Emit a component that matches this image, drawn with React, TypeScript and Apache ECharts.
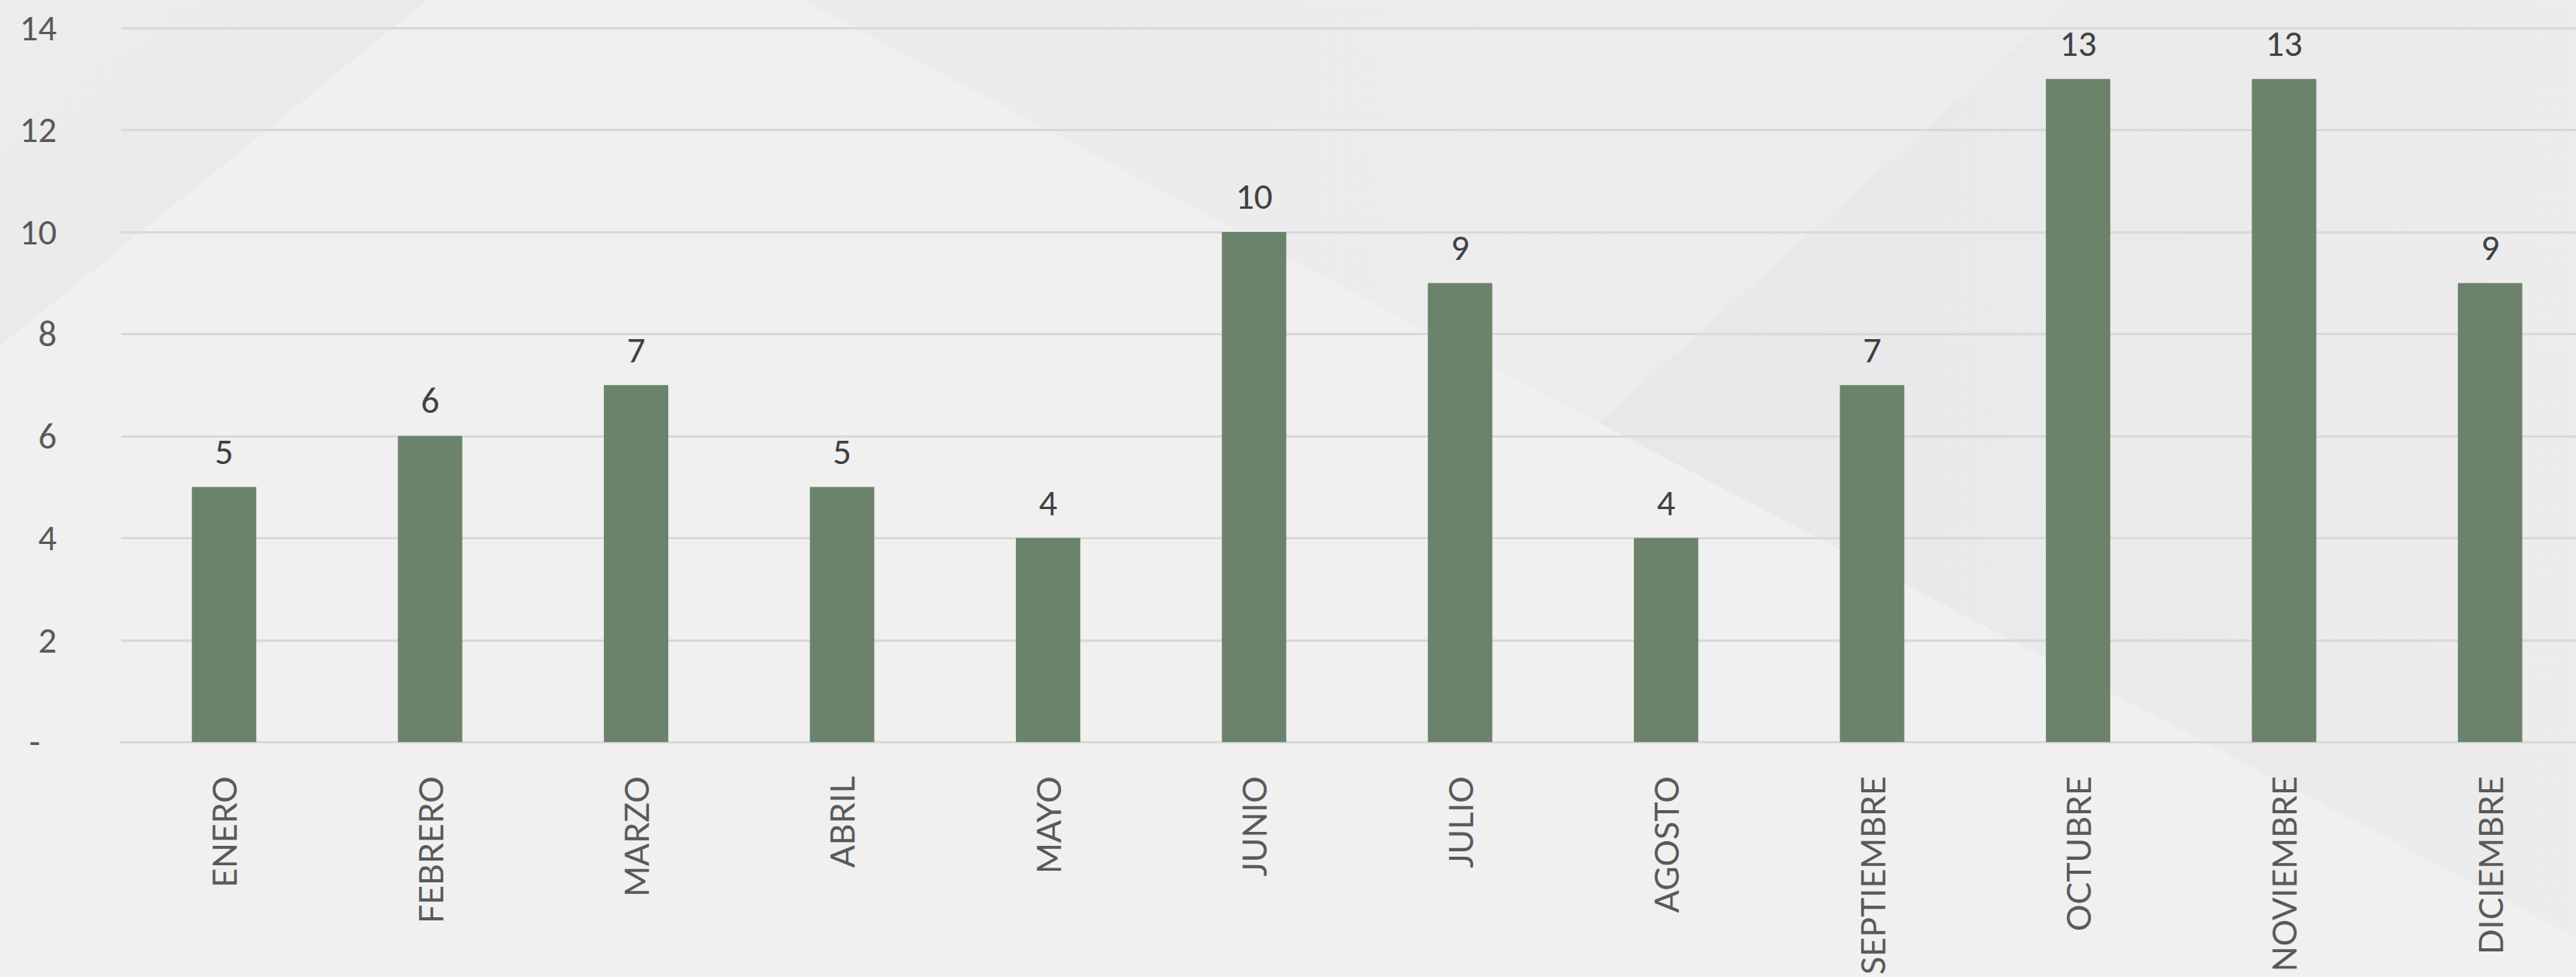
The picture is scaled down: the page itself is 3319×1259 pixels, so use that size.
import React, { useEffect, useRef } from "react";
import * as echarts from "echarts";

const categories = [
  "ENERO", "FEBRERO", "MARZO", "ABRIL", "MAYO", "JUNIO",
  "JULIO", "AGOSTO", "SEPTIEMBRE", "OCTUBRE", "NOVIEMBRE", "DICIEMBRE",
];
const values = [5, 6, 7, 5, 4, 10, 9, 4, 7, 13, 13, 9];
const yMin = 0;
const yMax = 14;
const yInterval = 2;

const W = 3319;
const H = 1259;
const CW = 3341; // chart canvas slightly wider than the view: the plot runs off the right edge

export default function App() {
  const ref = useRef<HTMLDivElement>(null);

  useEffect(() => {
    if (!ref.current) return;
    const chart = echarts.init(ref.current, null, { renderer: "svg" });

    const bg = [
      {
        type: "polygon",
        z: -10,
        silent: true,
        shape: { points: [[0, 0], [551, 0], [0, 446]] },
        style: {
          fill: new echarts.graphic.LinearGradient(0, 0, 1, 1, [
            { offset: 0, color: "#EDEDEE" },
            { offset: 1, color: "#E8E8EA" },
          ]),
        },
      },
      {
        type: "polygon",
        z: -10,
        silent: true,
        shape: { points: [[1034, 0], [2665, 0], [2060, 545]] },
        style: {
          fill: new echarts.graphic.LinearGradient(0, 0, 1, 0, [
            { offset: 0, color: "#EBEBED" },
            { offset: 1, color: "#EDEDEE" },
          ]),
        },
      },
      {
        type: "polygon",
        z: -10,
        silent: true,
        shape: { points: [[2665, 0], [CW, 0], [CW, 1220], [2060, 545]] },
        style: {
          fill: new echarts.graphic.LinearGradient(0, 0, 1, 0, [
            { offset: 0, color: "#E8E8EB" },
            { offset: 1, color: "#ECECED" },
          ]),
        },
      },
    ];

    const numFont = "Carlito, 'Liberation Sans', sans-serif";

    chart.setOption({
      animation: false,
      backgroundColor: "#F0F0F0",
      graphic: { elements: bg },
      grid: { left: 156, right: 0, top: 36, bottom: H - 957, containLabel: false },
      xAxis: {
        type: "category",
        data: categories,
        axisLine: { show: true, lineStyle: { color: "#D9D9D9", width: 3 } },
        axisTick: { show: false },
        axisLabel: {
          rotate: 90,
          margin: 44,
          color: "#595959",
          fontFamily: "Lato, 'Liberation Sans', sans-serif",
          fontSize: 43,
          interval: 0,
        },
      },
      yAxis: {
        type: "value",
        min: yMin,
        max: yMax,
        interval: yInterval,
        axisLine: { show: false },
        axisTick: { show: false },
        splitLine: { lineStyle: { color: "#D9D9D9", width: 3 } },
        axisLabel: {
          margin: 83,
          color: "#595959",
          fontFamily: numFont,
          fontSize: 47,
          formatter: (v: number) => (v === 0 ? "{d|-}" : String(v)),
          rich: {
            d: {
              padding: [0, 21, 0, 0],
              color: "#595959",
              fontFamily: numFont,
              fontSize: 47,
            },
          },
        },
      },
      series: [
        {
          type: "bar",
          data: values,
          barWidth: 83,
          itemStyle: { color: "#6C836B" },
          label: {
            show: true,
            position: "top",
            distance: 22,
            color: "#404040",
            fontFamily: numFont,
            fontSize: 47,
          },
        },
      ],
    });

    return () => chart.dispose();
  }, []);

  return (
    <div
      style={{
        position: "absolute",
        left: 0,
        top: 0,
        width: W,
        height: H,
        overflow: "hidden",
      }}
    >
      <div ref={ref} style={{ width: CW, height: H }} />
    </div>
  );
}
